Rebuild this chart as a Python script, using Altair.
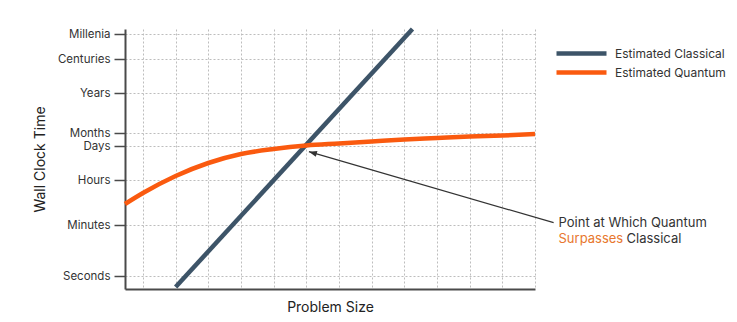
import altair as alt
import pandas as pd

# ---- data ----
y_tick_labels = ["Seconds", "Minutes", "Hours", "Days", "Months", "Years", "Centuries", "Millenia"]
y_tick_values = [13, 64, 109, 143, 156, 196, 230, 255]
x_grid_values = list(range(0, 13))

series_names = ["Estimated Classical", "Estimated Quantum"]
series_colors = ["#3D5468", "#FA5A0F"]

classical_x = [1.0, 8.25]
classical_y = [2, 260]

quantum_x = [-0.55, 0, 1, 2, 3, 4, 5, 6, 7, 8, 9, 10, 11, 12]
quantum_y = [85, 96, 113, 126, 135, 140, 143.5, 145.5, 147.5, 149.5, 151, 152.5, 153.5, 155]

arrow_tip = [5.08, 137.3]
arrow_tail = [12.57, 66.3]
note_line1 = "Point at Which Quantum"
note_word_orange = "Surpasses"
note_word_dark = "Classical"
note_anchor = [12.72, 66]
note_anchor2 = [12.72, 50]

FONT = "Inter"
TEXT = "#333333"
AXIS = "#4a4a4a"

lines = pd.DataFrame(
    [{"series": series_names[0], "x": x, "y": y} for x, y in zip(classical_x, classical_y)]
    + [{"series": series_names[1], "x": x, "y": y} for x, y in zip(quantum_x, quantum_y)]
)

label_expr = " : ".join(
    f"datum.value == {v} ? '{l}'" for v, l in zip(y_tick_values, y_tick_labels)
) + " : ''"

xscale = alt.Scale(domain=[-0.55, 12], nice=False, zero=False)
yscale = alt.Scale(domain=[0, 260], nice=False, zero=False)

xaxis = alt.Axis(
    values=x_grid_values, tickCount=50, labels=False, ticks=False, title="Problem Size",
    grid=True, gridDash=[2, 2], gridColor="#bdbdbd", gridWidth=1,
    domainColor=AXIS, domainWidth=2,
    titleFont=FONT, titleFontSize=14, titleFontWeight="normal", titleColor="#222222",
    titleY=18, titleBaseline="middle",
)
yaxis = alt.Axis(
    values=y_tick_values, tickCount=50, labelExpr=label_expr, labelOverlap=False,
    title="Wall Clock Time",
    grid=True, gridDash=[2, 2], gridColor="#bdbdbd", gridWidth=1,
    domainColor=AXIS, domainWidth=2, tickColor=AXIS, tickWidth=1.5, tickSize=11,
    labelFont=FONT, labelFontSize=11.5, labelColor=TEXT, labelPadding=4,
    titleFont=FONT, titleFontSize=14, titleFontWeight="normal", titleColor="#222222",
    titleX=-85, titleY=130, titleAngle=-90, titleAlign="center", titleBaseline="middle",
)

color = alt.Color(
    "series:N",
    scale=alt.Scale(domain=series_names, range=series_colors),
    legend=alt.Legend(
        title=None, orient="none", legendX=449, legendY=17, padding=0,
        symbolType="M-5,0H5", symbolSize=100, symbolStrokeWidth=4.5,
        symbolFillColor="transparent",
        labelFont=FONT, labelFontSize=12, labelColor=TEXT, labelOffset=26,
        rowPadding=0,
    ),
)

line_layer = alt.Chart(lines).mark_line(strokeWidth=4.5, interpolate="monotone").encode(
    x=alt.X("x:Q", scale=xscale, axis=xaxis),
    y=alt.Y("y:Q", scale=yscale, axis=yaxis),
    color=color,
    detail="series:N",
)

arrow_df = pd.DataFrame({"x": [arrow_tail[0]], "y": [arrow_tail[1]],
                         "x2": [arrow_tip[0]], "y2": [arrow_tip[1]]})
arrow_line = alt.Chart(arrow_df).mark_rule(color="#333333", strokeWidth=1.2, clip=False).encode(
    x="x:Q", y="y:Q", x2="x2:Q", y2="y2:Q"
)
head_df = pd.DataFrame({"x": [arrow_tip[0]], "y": [arrow_tip[1]]})
arrow_head = alt.Chart(head_df).mark_point(
    shape="M0,0L-1.6,-0.6L-1.6,0.6Z", size=100, filled=True, opacity=1,
    color="#333333", angle=196, clip=False,
).encode(x="x:Q", y="y:Q")

note_df = pd.DataFrame({
    "x": [note_anchor[0], note_anchor2[0], note_anchor2[0]],
    "y": [note_anchor[1], note_anchor2[1], note_anchor2[1]],
    "t": [note_line1, note_word_orange, note_word_dark],
    "k": ["a", "b", "c"],
})
note1 = alt.Chart(note_df[note_df.k == "a"]).mark_text(
    align="left", baseline="middle", font=FONT, fontSize=13, color=TEXT, clip=False
).encode(x="x:Q", y="y:Q", text="t:N")
note2 = alt.Chart(note_df[note_df.k == "b"]).mark_text(
    align="left", baseline="middle", font=FONT, fontSize=13, color="#E8772E", clip=False
).encode(x="x:Q", y="y:Q", text="t:N")
note3 = alt.Chart(note_df[note_df.k == "c"]).mark_text(
    align="left", baseline="middle", font=FONT, fontSize=13, color=TEXT, clip=False, dx=68
).encode(x="x:Q", y="y:Q", text="t:N")

chart = alt.layer(line_layer, arrow_line, arrow_head, note1, note2, note3).properties(
    width=410, height=260,
    autosize=alt.AutoSizeParams(type="none"),
    padding={"left": 125, "top": 29, "right": 202, "bottom": 33},
    background="white",
).configure_view(stroke=None)

chart.save("out.html", embed_options={"renderer": "svg", "actions": False})
